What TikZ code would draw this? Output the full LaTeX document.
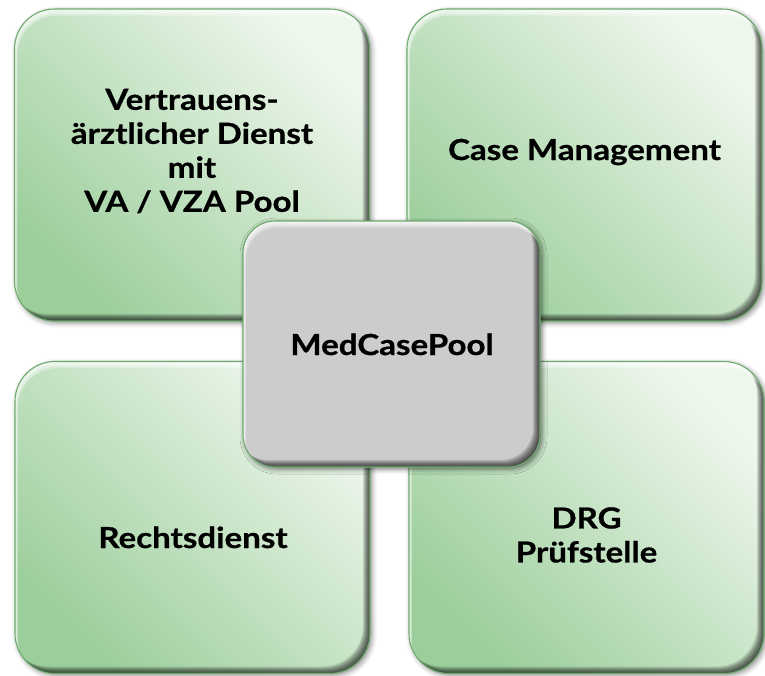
\documentclass[tikz,border=0pt]{standalone}
\usepackage{fontspec}
\setmainfont{Lato}[FakeStretch=1.14, BoldFeatures={FakeBold=0.7}]
\usetikzlibrary{shadows.blur}

\definecolor{gDark}{RGB}{156,206,156}
\definecolor{gLight}{RGB}{238,247,236}
\definecolor{gEdge}{RGB}{110,170,110}
\definecolor{poolGray}{RGB}{204,204,204}

% inner bevel: dark bands along the lower right, light bands along the upper left
\newcommand\innerbevel[1]{%
  \foreach \s in {1,2,3,4,5,6,7}{%
    \fill[black, opacity=0.13, even odd rule]
      ([shift={(-40pt,40pt)}]path picture bounding box.north west) rectangle
      ([shift={(40pt,-40pt)}]path picture bounding box.south east)
      [rounded corners=#1]
      ([shift={(-\s pt,\s pt)}]path picture bounding box.south west) rectangle
      ([shift={(-\s pt,\s pt)}]path picture bounding box.north east);
  }%
  \foreach \s in {2,3.5,5,6.5}{%
    \fill[white, opacity=0.3, even odd rule]
      ([shift={(-40pt,40pt)}]path picture bounding box.north west) rectangle
      ([shift={(40pt,-40pt)}]path picture bounding box.south east)
      [rounded corners=#1]
      ([shift={(0.45*\s pt,-\s pt)}]path picture bounding box.south west) rectangle
      ([shift={(0.45*\s pt,-\s pt)}]path picture bounding box.north east);
  }%
}

\tikzset{
  panel/.style={rounded corners=40pt, draw=gEdge, line width=1.1pt,
    top color=gLight, bottom color=gDark, shading angle=-45,
    minimum width=355pt, minimum height=312pt, inner sep=0pt,
    blur shadow={shadow xshift=2pt, shadow yshift=-2pt,
      shadow blur radius=5pt, shadow opacity=45},
    path picture={\innerbevel{40pt}}},
  hub/.style={rounded corners=32pt, draw=gEdge, line width=1.1pt,
    fill=poolGray, minimum width=297pt, minimum height=246pt, inner sep=0pt,
    blur shadow={shadow xshift=2pt, shadow yshift=-2pt,
      shadow blur radius=5pt, shadow opacity=55},
    path picture={\innerbevel{32pt}}},
  label/.style={font=\bfseries\fontsize{29}{34}\selectfont, align=center,
    inner sep=0pt, text=black}
}

\begin{document}
\begin{tikzpicture}[x=1pt, y=-1pt]
  \useasboundingbox (0,0) rectangle (765,675);

  % four service panels
  \node[panel] (vad) at (192,165) {};
  \node[panel] (cm)  at (584.5,165) {};
  \node[panel] (rd)  at (192.5,517.5) {};
  \node[panel] (drg) at (586.5,517.5) {};

  \node[label] (vadtext) at (192,151)
    {Vertrauens-\\ärztlicher Dienst\\mit\\VA / VZA Pool};
  \node[label, anchor=base] (cmtext) at (584.5,160) {Case Management};
  \node[label, anchor=base] (rdtext) at (193,548) {Rechtsdienst};
  \node[label] (drgtext) at (586.5,535) {DRG\\Prüfstelle};

  % central pool on top
  \node[hub] (pool) at (391.5,344) {};
  \node[label, anchor=base] (pooltext) at (392,355) {MedCasePool};
\end{tikzpicture}
\end{document}
